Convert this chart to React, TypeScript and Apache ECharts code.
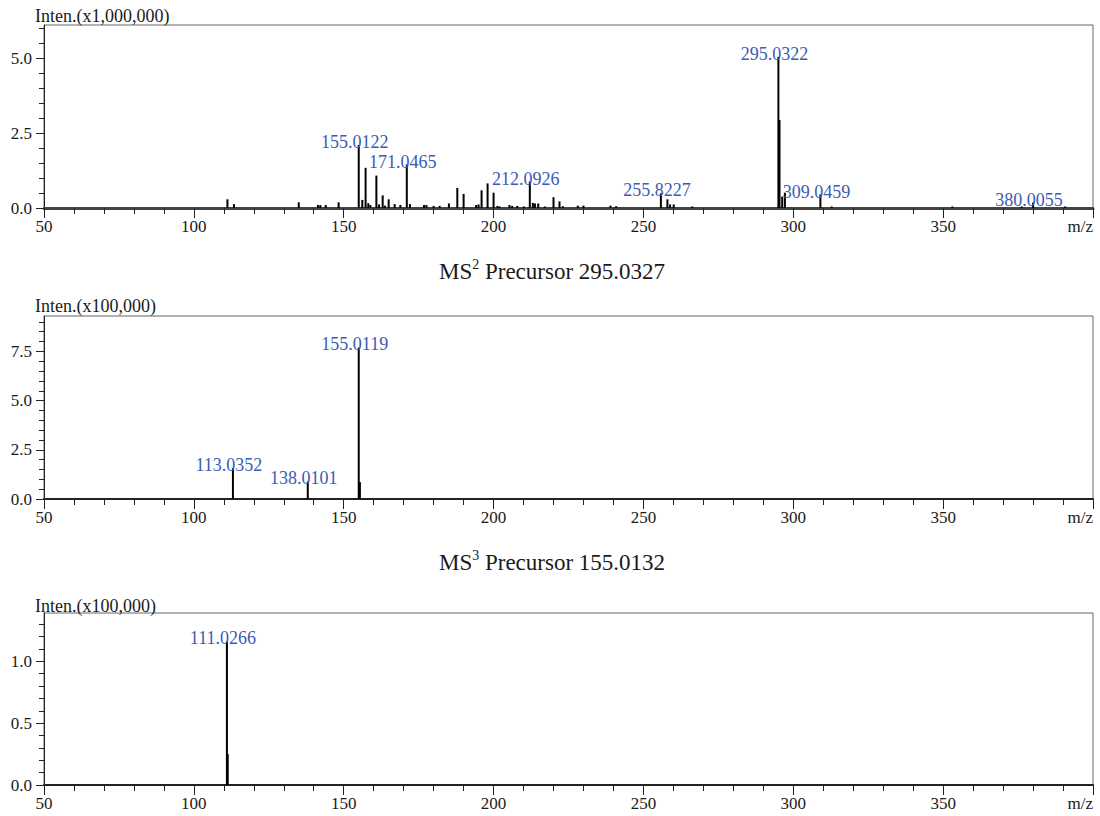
import React, { useEffect, useRef } from "react";
import * as echarts from "echarts";

// ---------- data ----------
// Panel 1 (MS1), intensity in x1,000,000
const MS1_PEAKS: [number, number][] = [
  [111.2, 0.29], [113.4, 0.13], [135.0, 0.19], [141.4, 0.1], [142.2, 0.1], [144.0, 0.1], [148.3, 0.19],
  [156.2, 0.27], [157.3, 1.34], [158.2, 0.16], [158.9, 0.1], [160.9, 1.08], [161.8, 0.12], [163.0, 0.42],
  [163.8, 0.08], [165.0, 0.29], [167.0, 0.13], [168.9, 0.1], [172.1, 0.13], [176.8, 0.1], [177.6, 0.1],
  [180.0, 0.07], [182.0, 0.07], [185.1, 0.15], [187.9, 0.67], [190.0, 0.47], [194.2, 0.1], [195.0, 0.12],
  [196.0, 0.59], [198.0, 0.82], [200.0, 0.51], [201.3, 0.07], [202.0, 0.05], [205.3, 0.1], [206.2, 0.07],
  [207.9, 0.07], [210.1, 0.05], [213.1, 0.17], [213.8, 0.15], [214.9, 0.15], [217.1, 0.05], [220.0, 0.36],
  [222.0, 0.22], [223.1, 0.06], [228.1, 0.08], [230.0, 0.08], [239.0, 0.08], [240.9, 0.06], [258.0, 0.29],
  [258.9, 0.12], [260.1, 0.12], [266.3, 0.05], [295.4, 2.93], [296.3, 0.38], [297.2, 0.51], [312.8, 0.05],
  [353.1, 0.05], [376.2, 0.05], [390.7, 0.05],
];
const MS1_LABELED: [number, number][] = [
  [155.0122, 2.1], [171.0465, 1.45], [212.0926, 0.88], [255.8227, 0.49], [295.0322, 5.04],
  [309.0459, 0.45], [380.0055, 0.18],
];

// Panel 2 (MS2), intensity in x100,000
const MS2_PEAKS: [number, number][] = [[155.4, 0.86]];
const MS2_LABELED: [number, number][] = [[113.0352, 1.57], [138.0101, 0.89], [155.0119, 7.7]];

// Panel 3 (MS3), intensity in x100,000
const MS3_PEAKS: [number, number][] = [[111.3, 0.25]];
const MS3_LABELED: [number, number][] = [[111.0266, 1.16]];

// axis ticks
const X_MIN = 50;
const X_MAX = 400;
const Y1_MAX = 6.1;
const Y1_MAJOR = [0, 2.5, 5.0];
const Y1_MINOR = [0, 0.5, 1, 1.5, 2, 2.5, 3, 3.5, 4, 4.5, 5, 5.5, 6];
const Y2_MAX = 9.3;
const Y2_MAJOR = [0, 2.5, 5.0, 7.5];
const Y2_MINOR = [0, 0.5, 1, 1.5, 2, 2.5, 3, 3.5, 4, 4.5, 5, 5.5, 6, 6.5, 7, 7.5, 8, 8.5, 9];
const Y3_MAX = 1.39;
const Y3_MAJOR = [0, 0.5, 1.0];
const Y3_MINOR = [0, 0.1, 0.2, 0.3, 0.4, 0.5, 0.6, 0.7, 0.8, 0.9, 1.0, 1.1, 1.2, 1.3];

const UNITS = ["Inten.(x1,000,000)", "Inten.(x100,000)", "Inten.(x100,000)"];
const TITLES = [
  { ms: "MS", level: "2", rest: " Precursor 295.0327" },
  { ms: "MS", level: "3", rest: " Precursor 155.0132" },
];

const FONT = "'Liberation Serif', 'Times New Roman', serif";
const TEXT = "#1a1a1a";
const BLUE = "#3b5bb5";

export default function App() {
  const ref = useRef<HTMLDivElement>(null);

  useEffect(() => {
    if (!ref.current) return;
    const chart = echarts.init(ref.current, null, { renderer: "svg" });

    const grids = [
      { left: 44, right: 7, top: 25, height: 183 },
      { left: 44, right: 7, top: 316, height: 183 },
      { left: 44, right: 7, top: 613, height: 172 },
    ];
    const yMax = [Y1_MAX, Y2_MAX, Y3_MAX];
    const yMajor = [Y1_MAJOR, Y2_MAJOR, Y3_MAJOR];
    const yMinor = [Y1_MINOR, Y2_MINOR, Y3_MINOR];
    const peaks = [MS1_PEAKS, MS2_PEAKS, MS3_PEAKS];
    const labeled = [MS1_LABELED, MS2_LABELED, MS3_LABELED];

    const xAxis = grids.map((_, i) => ({
      type: "value",
      gridIndex: i,
      min: X_MIN,
      max: X_MAX,
      interval: 50,
      axisLine: { show: true, lineStyle: { color: i === 0 ? "#444" : "#222", width: i === 0 ? 3 : 2 } },
      axisTick: { show: true, inside: false, length: 10, lineStyle: { color: "#222" } },
      minorTick: { show: true, splitNumber: 5, length: 6, lineStyle: { color: "#222" } },
      splitLine: { show: false },
      axisLabel: {
        show: true,
        margin: 10,
        fontSize: 17,
        fontFamily: FONT,
        color: TEXT,
        alignMaxLabel: "right",
        formatter: (v: number) => (v === X_MAX ? "m/z" : String(v)),
      },
    }));

    const yAxis: any[] = [];
    grids.forEach((_, i) => {
      yAxis.push({
        type: "value",
        gridIndex: i,
        position: "left",
        min: 0,
        max: yMax[i],
        axisLine: { show: true, lineStyle: { color: "#222", width: 1 } },
        axisTick: { show: true, inside: false, length: 8, customValues: yMajor[i], lineStyle: { color: "#222" } },
        axisLabel: {
          show: true,
          customValues: yMajor[i],
          margin: 12,
          fontSize: 17,
          fontFamily: FONT,
          color: TEXT,
          formatter: (v: number) => v.toFixed(1),
        },
        splitLine: { show: false },
      });
      yAxis.push({
        type: "value",
        gridIndex: i,
        position: "left",
        offset: 0,
        min: 0,
        max: yMax[i],
        axisLine: { show: false },
        axisTick: { show: true, inside: false, length: 5, customValues: yMinor[i], lineStyle: { color: "#222" } },
        axisLabel: { show: false },
        splitLine: { show: false },
      });
    });

    const series = grids.map((_, i) => {
      const data: any[] = [];
      peaks[i].forEach(([mz, v]) => data.push({ value: [mz, v] }));
      labeled[i].forEach(([mz, v]) =>
        data.push({ value: [mz, v], label: { show: true, formatter: mz.toFixed(4) } })
      );
      return {
        type: "bar",
        xAxisIndex: i,
        yAxisIndex: i * 2,
        barWidth: 2,
        itemStyle: { color: "#000" },
        label: {
          show: false,
          position: "top",
          distance: 0,
          offset: [-4, 6],
          color: BLUE,
          fontSize: 18,
          fontFamily: FONT,
        },
        emphasis: { disabled: true },
        data,
      };
    });

    const unitY = [16, 306, 606];
    const graphic: any[] = UNITS.map((t, i) => ({
      type: "text",
      left: 35,
      top: unitY[i] - 9,
      style: { text: t, fontSize: 18, fontFamily: FONT, fill: TEXT },
    }));
    const titleY = [270, 561];
    TITLES.forEach((t, i) => {
      graphic.push({
        type: "text",
        x: 552,
        y: titleY[i],
        style: {
          text: `{a|${t.ms}}{s|${t.level}}{a|${t.rest}}`,
          align: "center",
          verticalAlign: "middle",
          rich: {
            a: { fontSize: 23, fontFamily: FONT, fill: TEXT, color: TEXT, verticalAlign: "bottom", lineHeight: 25 },
            s: { fontSize: 14, fontFamily: FONT, fill: TEXT, color: TEXT, verticalAlign: "top", lineHeight: 25, padding: [0, 0, 10, 0] },
          },
        },
      });
    });

    chart.setOption({
      animation: false,
      backgroundColor: "#fff",
      grid: grids.map((g) => ({ ...g, show: true, borderColor: "#666", borderWidth: 1, backgroundColor: "transparent" })),
      xAxis,
      yAxis,
      series,
      graphic,
    });

    return () => chart.dispose();
  }, []);

  return (
    <div
      ref={ref}
      style={{ position: "absolute", left: 0, top: 0, width: 1100, height: 816, background: "#fff" }}
    />
  );
}
